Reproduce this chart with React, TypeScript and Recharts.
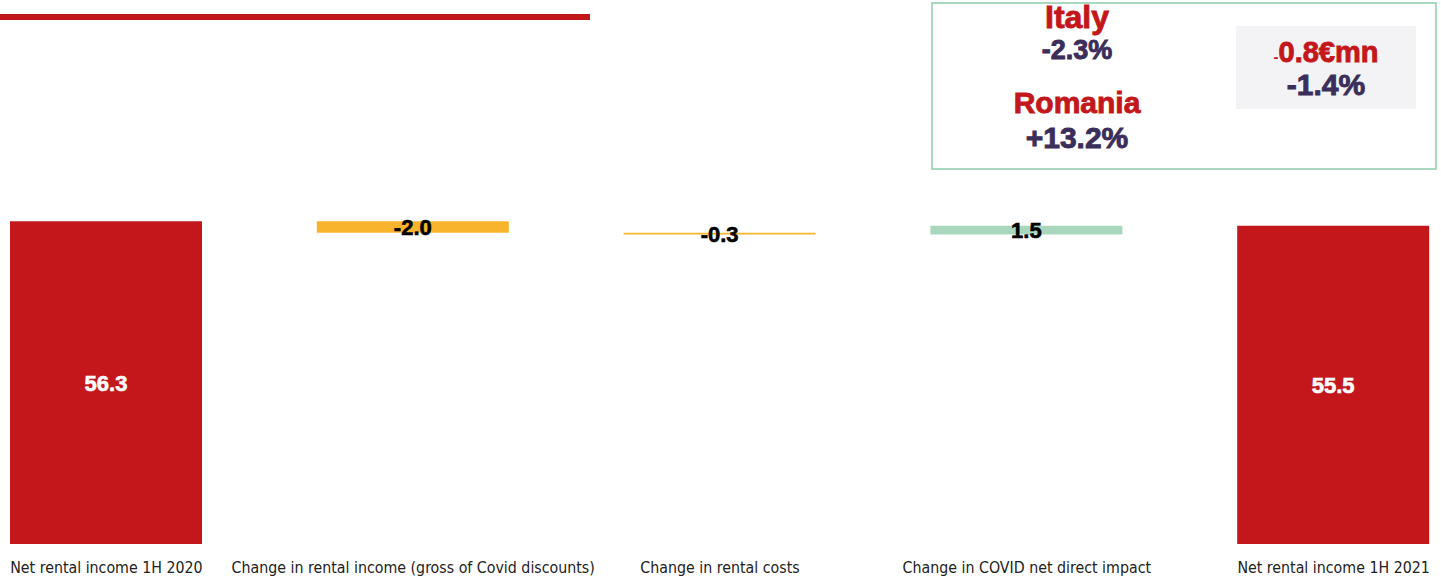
import React from 'react';
import { BarChart, Bar, XAxis, YAxis, Cell, LabelList } from 'recharts';

const categories = [
  'Net rental income 1H 2020',
  'Change in rental income (gross of Covid discounts)',
  'Change in rental costs',
  'Change in COVID net direct impact',
  'Net rental income 1H 2021',
];
const values = [56.3, -2.0, -0.3, 1.5, 55.5];
const isTotal = [true, false, false, false, true];
const barColors = ['#C3171C', '#F9B42D', '#F5B62E', '#A9D7BD', '#C3171C'];
const labelColors = ['#FFFFFF', '#000000', '#000000', '#000000', '#FFFFFF'];

const RED = '#C3171C';
const PURPLE = '#3B2E5A';

// waterfall: invisible base + visible step
let running = 0;
const data = categories.map((name, i) => {
  const v = values[i];
  let base = 0;
  if (isTotal[i]) {
    running = v;
  } else {
    base = v < 0 ? running + v : running;
    running = running + v;
  }
  return { name, base, step: Math.abs(v), value: v };
});

const renderLabel = (props: any) => {
  const { x, y, width, height, index } = props;
  const c = labelColors[index];
  return (
    <text
      x={x + width / 2}
      y={y + height / 2}
      dy={8}
      textAnchor="middle"
      fill={c}
      stroke={c}
      strokeWidth={0.6}
      fontFamily="'Liberation Sans', Arial, sans-serif"
      fontWeight="bold"
      fontSize={22}
    >
      {values[index].toFixed(1)}
    </text>
  );
};

const boxText = {
  position: 'absolute' as const,
  fontFamily: "'Liberation Sans', Arial, sans-serif",
  fontWeight: 900,
  textAlign: 'center' as const,
  lineHeight: 1,
  whiteSpace: 'nowrap' as const,
  WebkitTextStroke: '0.9px currentColor',
};

const App: React.FC = () => {
  return (
    <div style={{ position: 'absolute', left: 0, top: 0, width: 1441, height: 580, overflow: 'hidden', background: '#fff' }}>
      <div style={{ position: 'absolute', left: 0, top: 14, width: 590, height: 6, background: RED }} />

      <div style={{ position: 'absolute', left: -47, top: 0 }}>
        <BarChart
          width={1534}
          height={580}
          data={data}
          margin={{ top: 200, right: 0, left: 0, bottom: 0 }}
          barSize={192}
        >
          <XAxis
            dataKey="name"
            interval={0}
            axisLine={false}
            tickLine={false}
            tickSize={0}
            tickMargin={18}
            height={36}
            tick={{ fill: '#222', fontSize: 15.8, fontFamily: "'DejaVu Sans Condensed', 'DejaVu Sans', sans-serif" }}
          />
          <YAxis hide domain={[0, 60]} allowDataOverflow />
          <Bar dataKey="base" stackId="w" fill="transparent" isAnimationActive={false} />
          <Bar dataKey="step" stackId="w" isAnimationActive={false}>
            {data.map((d, i) => (
              <Cell key={d.name} fill={barColors[i]} />
            ))}
            <LabelList dataKey="value" content={renderLabel} />
          </Bar>
        </BarChart>
      </div>

      <div style={{ position: 'absolute', left: 931, top: 2, width: 502, height: 164, border: '2px solid #A8D8BE' }}>
        <div style={{ ...boxText, left: 0, width: 288, top: -3, fontSize: 32, color: RED }}>Italy</div>
        <div style={{ ...boxText, left: 0, width: 288, top: 33, fontSize: 27, color: PURPLE }}>-2.3%</div>
        <div style={{ ...boxText, left: 0, width: 288, top: 84, fontSize: 30, color: RED }}>Romania</div>
        <div style={{ ...boxText, left: 0, width: 288, top: 119, fontSize: 30, color: PURPLE }}>+13.2%</div>
        <div style={{ position: 'absolute', left: 303, top: 22, width: 180, height: 83, background: '#F3F3F5' }}>
          <div style={{ ...boxText, left: 0, width: 180, top: 12, fontSize: 29, color: RED }}>
            <span style={{ fontSize: 15, WebkitTextStroke: '0px' }}>-</span>0.8€mn
          </div>
          <div style={{ ...boxText, left: 0, width: 180, top: 44, fontSize: 30, color: PURPLE }}>-1.4%</div>
        </div>
      </div>
    </div>
  );
};

export default App;
